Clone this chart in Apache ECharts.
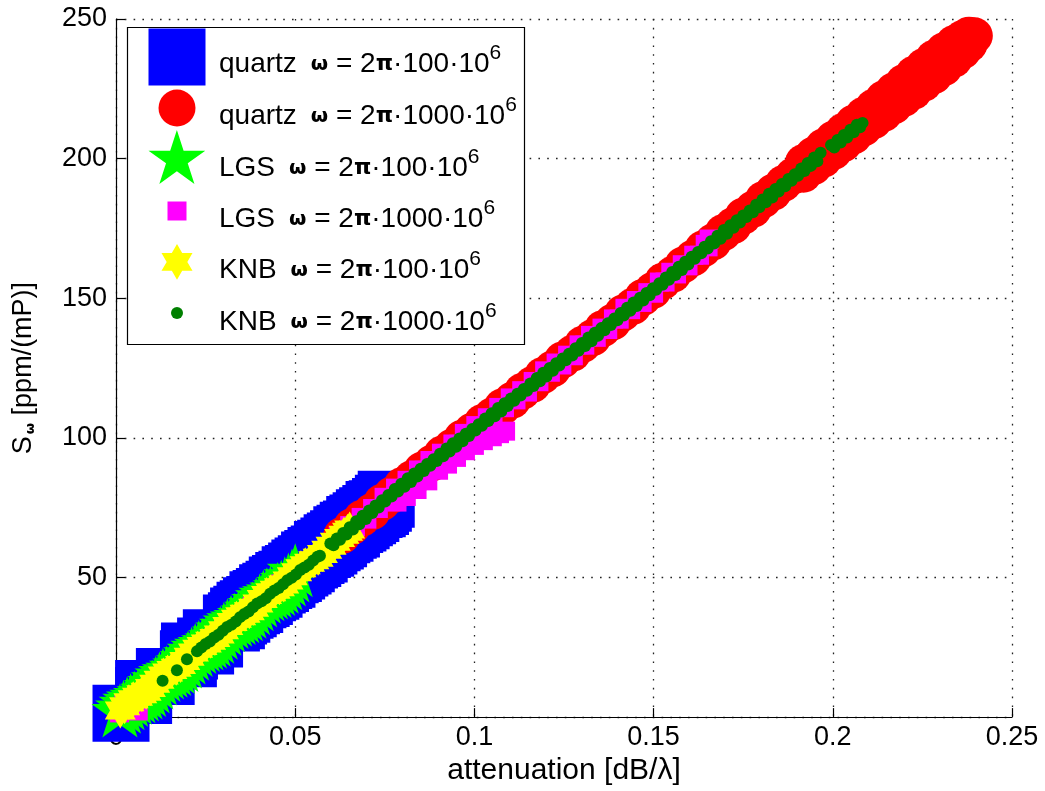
<!DOCTYPE html>
<html><head><meta charset="utf-8">
<script src="https://cdn.jsdelivr.net/npm/echarts@6/dist/echarts.min.js"></script>
<style>html,body{margin:0;padding:0;background:#fff}#c{width:1045px;height:791px}</style>
</head><body><div id="c"></div>
<script>
// ---------------- DATA ----------------
const materials = ['quartz', 'quartz', 'LGS', 'LGS', 'KNB', 'KNB'];
const freqFactors = ['100', '1000', '100', '1000', '100', '1000'];
const seriesNames = materials.map((m, i) => m + ' ω = 2π·' + freqFactors[i] + '·10^6');

const xTickValues = [0, 0.05, 0.1, 0.15, 0.2, 0.25];
const xTickLabels = ['0', '0.05', '0.1', '0.15', '0.2', '0.25'];
const yTickValues = [0, 50, 100, 150, 200, 250];
const yTickLabels = ['0', '50', '100', '150', '200', '250'];
const xAxisTitle = 'attenuation [dB/λ]';

// quartz, ω = 2π·100·10^6
const quartz100 = [
  [0.0014,1.4],[0.0077,7.7],[0.0077,10.2],[0.0135,14.5],[0.0140,14.5],[0.0202,20.9],[0.0205,23.7],
  [0.0250,25.5],[0.0266,28.4],[0.0275,28.0],[0.0322,33.7],[0.0336,34.5],
  [0.0342,36.2],[0.0351,36.8],[0.0360,38.3],[0.0369,38.8],[0.0378,39.9],[0.0387,40.3],[0.0396,42.0],
  [0.0405,42.5],[0.0414,43.2],[0.0423,44.5],[0.0432,45.1],[0.0441,45.8],[0.0450,47.3],[0.0459,47.8],
  [0.0468,48.9],[0.0477,49.4],[0.0486,51.0],[0.0495,51.4],[0.0504,52.3],[0.0513,53.4],[0.0522,54.1],
  [0.0531,54.9],[0.0540,56.3],[0.0549,56.8],[0.0558,57.9],[0.0567,58.4],[0.0576,60.0],[0.0585,60.5],
  [0.0594,61.3],[0.0603,62.4],[0.0612,63.1],[0.0621,63.9],[0.0630,65.3],[0.0639,65.8],[0.0648,66.9],
  [0.0657,67.4],[0.0666,69.0],[0.0675,69.5],[0.0684,70.3],[0.0693,71.4],[0.0702,72.1],[0.0711,72.9],
  [0.0720,74.3],[0.0729,74.6],[0.0738,75.4],[0.0746,76.6],[0.0754,78.0]
];
// quartz, ω = 2π·1000·10^6
const quartz1000 = [
  [0.0630,65.0],[0.0658,68.2],[0.0686,71.2],[0.0714,73.6],[0.0742,76.9],[0.0770,79.6],[0.0798,82.9],
  [0.0826,85.4],[0.0854,88.5],[0.0882,91.0],[0.0910,94.2],[0.0938,96.7],[0.0966,99.9],[0.0994,102.4],
  [0.1022,105.5],[0.1050,107.9],[0.1078,111.1],[0.1106,113.5],[0.1134,116.7],[0.1162,119.1],[0.1190,122.3],
  [0.1218,124.7],[0.1246,127.9],[0.1274,130.3],[0.1302,133.5],[0.1330,135.9],[0.1358,139.1],[0.1386,141.5],
  [0.1414,144.7],[0.1442,147.1],[0.1470,150.3],[0.1498,152.8],[0.1526,156.1],[0.1554,158.6],[0.1582,161.9],
  [0.1610,164.4],[0.1638,167.7],[0.1666,170.2],[0.1694,173.5],[0.1722,176.0],[0.1750,179.4],[0.1778,181.9],
  [0.1806,185.3],[0.1834,188.0],[0.1862,191.1],[0.1890,193.8],
  [0.1918,198.6],[0.1918,194.4],[0.1946,201.3],[0.1946,197.1],[0.1974,204.2],[0.1974,199.8],
  [0.2002,207.0],[0.2002,202.6],[0.2030,209.8],[0.2030,205.4],[0.2058,212.7],[0.2058,208.1],
  [0.2086,215.5],[0.2086,211.0],[0.2114,218.4],[0.2114,213.6],[0.2142,221.4],[0.2142,216.2],
  [0.2170,224.3],[0.2170,218.9],[0.2198,227.2],[0.2198,221.6],[0.2226,230.2],[0.2226,224.2],
  [0.2254,233.0],[0.2254,227.0],[0.2282,235.9],[0.2282,229.7],[0.2310,238.6],[0.2310,232.6],
  [0.2338,241.2],[0.2338,235.6],[0.2362,243.0],[0.2362,238.6],[0.2380,244.2],[0.2380,241.0],[0.2395,244.0]
];
// LGS, ω = 2π·100·10^6
const lgs100 = [
  [0.0011,2.4],[0.0021,3.7],[0.0031,5.0],[0.0041,6.1],[0.0051,6.9],[0.0061,7.5],[0.0071,8.1],
  [0.0081,8.8],[0.0091,9.7],[0.0101,11.0],[0.0111,12.4],[0.0121,13.8],[0.0131,15.1],[0.0141,16.0],
  [0.0151,16.6],[0.0161,17.2],[0.0171,17.9],[0.0181,18.7],[0.0191,19.9],[0.0201,21.3],[0.0211,22.7],
  [0.0221,24.0],[0.0231,25.1],[0.0241,25.8],[0.0251,26.4],[0.0261,27.0],[0.0271,27.7],[0.0281,28.8],
  [0.0291,30.2],[0.0301,31.6],[0.0311,32.9],[0.0321,34.1],[0.0331,34.9],[0.0341,35.5],[0.0351,36.1],
  [0.0361,36.8],[0.0371,37.7],[0.0381,39.0],[0.0391,40.4],[0.0401,41.8],[0.0411,43.1],[0.0421,44.0],
  [0.0431,44.6],[0.0441,45.2],[0.0451,45.9],[0.0461,46.7],[0.0471,47.9],[0.0481,49.3],[0.0491,50.7],
  [0.0500,52.6]
];
// LGS, ω = 2π·1000·10^6
const lgs1000 = [
  [0.0010,1.5],[0.0022,4.6],[0.0062,2.2],[0.0062,7.0],[0.0100,10.9],[0.0140,15.3],[0.0180,19.0],
  [0.0220,23.4],[0.0260,27.1],[0.0300,31.5],[0.0340,35.2],[0.0380,39.6],[0.0420,43.3],[0.0460,47.7],
  [0.0500,51.4],[0.0540,55.8],[0.0580,59.6],
  [0.0620,64.8],[0.0636,64.8],[0.0652,68.6],[0.0668,68.1],[0.0684,71.5],[0.0700,70.9],[0.0716,74.7],
  [0.0732,74.7],[0.0748,78.7],[0.0764,78.5],[0.0780,82.0],[0.0796,81.3],[0.0812,84.8],[0.0828,84.6],
  [0.0844,88.5],[0.0860,88.4],[0.0876,91.9],[0.0892,91.2],[0.0908,94.5],[0.0924,94.0],[0.0940,97.8],
  [0.0956,97.7],[0.0972,101.6],[0.0988,101.1],[0.1004,104.4],[0.1020,103.7],[0.1036,107.2],[0.1052,107.0],
  [0.1068,110.9],[0.1084,110.8],[0.1100,114.3],[0.1116,113.6],[0.1132,116.9],[0.1148,116.4],[0.1164,120.2],
  [0.1180,120.1],[0.1196,124.0],[0.1212,123.5],[0.1228,126.8],[0.1244,126.1],[0.1260,129.6],[0.1276,129.4],
  [0.1292,133.3],[0.1308,133.2],[0.1324,136.7],[0.1340,136.0],[0.1356,139.3],[0.1372,138.8],[0.1388,142.6],
  [0.1404,142.5],[0.1420,146.4],[0.1436,145.9],[0.1452,149.2],[0.1468,148.5],[0.1484,152.0],[0.1500,151.8],
  [0.1516,155.8],[0.1532,155.8],[0.1548,159.3],[0.1564,158.7],[0.1580,162.0],[0.1596,161.6],[0.1612,165.4],
  [0.1628,165.4],[0.1644,169.3],[0.1652,168.4],[0.1655,171.2],
  [0.0784,77.0],[0.0810,79.0],[0.0840,81.5],[0.0870,84.6],[0.0900,88.4],[0.0925,90.6],[0.0950,93.0],
  [0.0975,95.4],[0.1000,97.3],[0.1025,99.0],[0.1050,100.4],[0.1070,101.5],[0.1087,102.4]
];
// KNB, ω = 2π·100·10^6
const knb100 = [
  [0.0012,2.4],[0.0024,3.9],[0.0036,5.3],[0.0048,6.4],[0.0060,7.3],[0.0072,8.2],[0.0084,9.1],
  [0.0096,10.4],[0.0108,11.9],[0.0120,13.4],[0.0132,14.9],[0.0144,16.0],[0.0156,16.9],[0.0168,17.7],
  [0.0180,18.7],[0.0192,20.1],[0.0204,21.6],[0.0216,23.1],[0.0228,24.5],[0.0240,25.5],[0.0252,26.4],
  [0.0264,27.3],[0.0276,28.3],[0.0288,29.6],[0.0300,31.1],[0.0312,32.6],[0.0324,34.1],[0.0336,35.2],
  [0.0348,36.1],[0.0360,37.0],[0.0372,37.9],[0.0384,39.2],[0.0396,40.7],[0.0408,42.3],[0.0420,43.7],
  [0.0432,44.7],[0.0444,45.6],[0.0456,46.5],[0.0468,47.5],[0.0480,48.9],[0.0492,50.4],[0.0504,51.9],
  [0.0516,53.3],[0.0528,54.4],[0.0540,55.3],[0.0552,56.2],[0.0564,57.1],[0.0576,58.4],[0.0588,59.9],
  [0.0600,61.4],[0.0612,62.8],[0.0624,64.1],[0.0636,65.3],[0.0646,66.4],[0.0652,67.2]
];
// KNB, ω = 2π·1000·10^6
const knb1000 = [
  [0.0130,13.0],[0.0170,16.8],[0.0198,20.7],
  [0.0226,23.6],[0.0238,24.9],[0.0250,26.2],[0.0262,27.1],[0.0274,28.5],[0.0286,29.5],[0.0298,30.9],
  [0.0310,32.3],[0.0322,33.1],[0.0334,34.2],[0.0346,35.8],[0.0358,36.9],[0.0370,37.8],[0.0382,39.3],
  [0.0394,40.7],[0.0406,41.5],[0.0418,42.6],[0.0430,44.2],[0.0442,45.3],[0.0454,46.2],[0.0466,47.6],
  [0.0478,49.0],[0.0490,49.9],[0.0502,51.1],[0.0514,52.7],[0.0526,53.6],[0.0538,54.6],[0.0550,56.1],
  [0.0562,57.4],[0.0569,57.8],
  [0.0598,62.2],[0.0607,61.5],[0.0616,64.0],[0.0625,63.5],[0.0634,65.9],[0.0643,65.4],[0.0652,68.0],
  [0.0661,67.2],[0.0670,70.1],[0.0679,69.1],[0.0688,72.1],[0.0697,70.9],[0.0706,74.0],[0.0715,73.1],
  [0.0724,75.8],[0.0733,75.1],[0.0742,77.7],[0.0751,77.2],[0.0760,79.5],[0.0769,79.0],[0.0778,81.7],
  [0.0787,80.8],[0.0796,83.6],[0.0805,82.5],[0.0814,85.5],[0.0823,84.2],[0.0832,87.2],[0.0841,86.2],
  [0.0850,88.9],[0.0859,88.1],[0.0868,90.6],[0.0877,90.0],[0.0886,92.3],[0.0895,91.7],[0.0904,94.3],
  [0.0913,93.4],[0.0922,96.2],[0.0931,95.1],[0.0940,98.1],[0.0949,96.8],[0.0958,99.8],[0.0967,98.8],
  [0.0976,101.5],[0.0985,100.7],[0.0994,103.2],[0.1003,102.6],[0.1012,104.9],[0.1021,104.3],[0.1030,106.9],
  [0.1039,106.0],[0.1048,108.8],[0.1057,107.7],[0.1066,110.7],[0.1075,109.4],[0.1084,112.4],[0.1093,111.4],
  [0.1102,114.1],[0.1111,113.3],[0.1120,115.8],[0.1129,115.2],[0.1138,117.5],[0.1147,116.9],[0.1156,119.5],
  [0.1165,118.6],[0.1174,121.4],[0.1183,120.3],[0.1192,123.3],[0.1201,122.0],[0.1210,125.0],[0.1219,124.0],
  [0.1228,126.7],[0.1237,125.9],[0.1246,128.4],[0.1255,127.8],[0.1264,130.1],[0.1273,129.5],[0.1282,132.1],
  [0.1291,131.2],[0.1300,134.0],[0.1309,132.9],[0.1318,135.9],[0.1327,134.6],[0.1336,137.6],[0.1345,136.6],
  [0.1354,139.3],[0.1363,138.5],[0.1372,141.0],[0.1381,140.4],[0.1390,142.7],[0.1399,142.1],[0.1408,144.7],
  [0.1417,143.8],[0.1426,146.6],[0.1435,145.5],[0.1444,148.5],[0.1453,147.2],[0.1462,150.2],[0.1471,149.2],
  [0.1480,151.9],[0.1489,151.1],[0.1498,153.6],[0.1507,153.0],[0.1516,155.4],[0.1525,154.8],[0.1534,157.4],
  [0.1543,156.6],[0.1552,159.4],[0.1561,158.3],[0.1570,161.3],[0.1579,160.1],[0.1588,163.1],[0.1597,162.1],
  [0.1606,164.9],[0.1615,164.1],[0.1624,166.6],[0.1633,166.1],[0.1642,168.4],[0.1651,167.8],[0.1660,170.4],
  [0.1669,169.6],[0.1678,172.4],[0.1687,171.3],[0.1696,174.4],[0.1705,173.1],[0.1714,176.1],[0.1723,175.2],
  [0.1732,177.9],[0.1741,177.1],[0.1750,179.6],[0.1759,179.1],[0.1768,181.4],[0.1777,180.8],[0.1786,183.5],
  [0.1795,182.6],[0.1804,185.4],[0.1813,184.4],[0.1822,187.4],[0.1831,186.1],[0.1840,189.1],[0.1849,188.2],
  [0.1858,190.9],[0.1867,190.1],[0.1876,192.7],[0.1885,192.1],[0.1894,194.4],[0.1903,193.9],[0.1912,196.5],
  [0.1921,195.6],[0.1930,198.4],[0.1939,197.4],[0.1948,200.4],[0.1957,199.1],[0.1966,202.1],
  [0.1995,204.9],[0.2004,204.0],[0.2013,206.7],[0.2022,205.8],[0.2031,208.5],[0.2040,207.6],[0.2049,210.3],
  [0.2058,209.4],[0.2067,212.1],[0.2076,211.2],[0.2083,212.8]
];
const datasets = [quartz100, quartz1000, lgs100, lgs1000, knb100, knb1000];

// ---------------- STYLE / LAYOUT ----------------
const STAR = 'path://M100 0L122.5 69.1L195.1 69.1L136.3 111.8L158.8 180.9L100 138.2L41.2 180.9L63.7 111.8L4.9 69.1L77.5 69.1Z';
const HEX = 'path://M100 0L128.9 50L186.6 50L157.7 100L186.6 150L128.9 150L100 200L71.1 150L13.4 150L42.3 100L13.4 50L71.1 50Z';
const styles = [
  { color: '#0000ff', symbol: 'rect', size: [57, 57] },
  { color: '#ff0000', symbol: 'circle', size: [37, 37] },
  { color: '#00ff00', symbol: STAR, size: [57, 54] },
  { color: '#ff00ff', symbol: 'rect', size: [19, 19] },
  { color: '#ffff00', symbol: HEX, size: [31, 36] },
  { color: '#008000', symbol: 'circle', size: [12, 12] }
];
const legendIconCX = 177;
const legendTextX = 219;
const legendIconCY = [57, 108, 157, 211, 262, 313];
const legendTextCY = [61, 113, 165, 216, 267, 319];
const FONT = 'Liberation Sans';

const legendRich = {
  t: { fontFamily: FONT, fontSize: 28, color: '#000', lineHeight: 36 },
  g: { fontFamily: FONT, fontSize: 28, width: 14, lineHeight: 36 },
  w: { fontFamily: 'DejaVu Sans', fontSize: 20, fontWeight: 'bold', color: '#000', lineHeight: 36 },
  p: { fontFamily: 'DejaVu Sans', fontSize: 22, fontWeight: 'bold', color: '#000', lineHeight: 36 },
  s: { fontFamily: FONT, fontSize: 21, color: '#000', lineHeight: 14, padding: [0, 0, 22, 0] }
};
function legendFmt(name) {
  const i = seriesNames.indexOf(name);
  return '{t|' + materials[i] + '}{g| }{w|ω}{t| = 2}{p|π}{t|·' + freqFactors[i] + '·10}{s|6}';
}
function tickFmt(values, labels) {
  return function (v) {
    const i = values.findIndex(t => Math.abs(t - v) < 1e-9);
    return i >= 0 ? labels[i] : '';
  };
}

// icon-only legends
const iconLegends = styles.map((s, i) => ({
  show: true, z: 5, padding: 0, itemGap: 0, selectedMode: false,
  left: legendIconCX - s.size[0] / 2,
  top: legendIconCY[i] - s.size[1] / 2,
  itemWidth: s.size[0], itemHeight: s.size[1],
  icon: s.symbol,
  data: [seriesNames[i]],
  formatter: () => '',
  textStyle: { fontSize: 1, lineHeight: 1 }
}));
// text-only legends
const textLegends = styles.map((s, i) => ({
  show: true, z: 5, padding: 0, itemGap: 0, selectedMode: false,
  left: legendTextX - 6,
  top: legendTextCY[i] - 18,
  itemWidth: 1, itemHeight: 1,
  icon: 'rect',
  itemStyle: { color: 'rgba(0,0,0,0)', borderWidth: 0 },
  data: [seriesNames[i]],
  formatter: legendFmt,
  textStyle: { rich: legendRich }
}));

const chart = echarts.init(document.getElementById('c'), null, { renderer: 'canvas' });
const gridLine = { show: true, lineStyle: { type: [1.6, 7.2], color: '#222', width: 1.3 } };

chart.setOption({
  animation: false,
  backgroundColor: '#fff',
  grid: { left: 116, right: 33, top: 19, bottom: 72, containLabel: false },
  xAxis: {
    type: 'value', min: 0, max: 0.25, interval: 0.05,
    name: xAxisTitle, nameLocation: 'middle', nameGap: 38,
    nameTextStyle: { fontFamily: FONT, fontSize: 30, color: '#000' },
    axisLine: { show: true, onZero: false, lineStyle: { color: '#000', width: 1.2 } },
    axisTick: { show: true, inside: true, length: 9, lineStyle: { color: '#000', width: 1.2 } },
    axisLabel: { fontFamily: FONT, fontSize: 27, color: '#000', margin: 7, formatter: tickFmt(xTickValues, xTickLabels) },
    splitLine: gridLine
  },
  yAxis: {
    type: 'value', min: 0, max: 250, interval: 50,
    name: '{t|S}{sub|ω}{t| [ppm/(mP)]}', nameLocation: 'middle', nameGap: 78,
    nameTextStyle: {
      rich: {
        t: { fontFamily: FONT, fontSize: 27, color: '#000', lineHeight: 28 },
        sub: { fontFamily: 'DejaVu Sans', fontSize: 13, fontWeight: 'bold', color: '#000', lineHeight: 14, padding: [14, 0, 0, 2] }
      }
    },
    axisLine: { show: true, onZero: false, lineStyle: { color: '#000', width: 1.2 } },
    axisTick: { show: true, inside: true, length: 9, lineStyle: { color: '#000', width: 1.2 } },
    axisLabel: { fontFamily: FONT, fontSize: 27, color: '#000', margin: 9, formatter: tickFmt(yTickValues, yTickLabels) },
    splitLine: gridLine
  },
  graphic: [{
    type: 'rect', z: 1, silent: true,
    shape: { x: 127.5, y: 27.5, width: 397, height: 317 },
    style: { fill: '#fff', stroke: '#000', lineWidth: 1.2 }
  }],
  legend: iconLegends.concat(textLegends),
  series: datasets.map((d, i) => ({
    type: 'scatter',
    name: seriesNames[i],
    data: d,
    symbol: styles[i].symbol,
    symbolSize: styles[i].size,
    symbolKeepAspect: false,
    itemStyle: { color: styles[i].color, opacity: 1 },
    clip: false,
    silent: true,
    emphasis: { disabled: true }
  }))
});
</script>
</body></html>
